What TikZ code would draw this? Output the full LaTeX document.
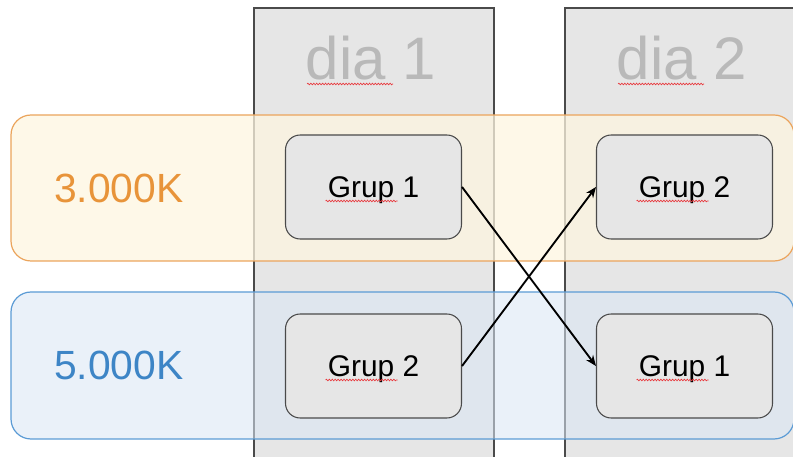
\documentclass[tikz,border=0pt]{standalone}
\usepackage{fontspec}
\setmainfont{Liberation Sans}
\usetikzlibrary{arrows.meta,decorations.pathmorphing}

\definecolor{colgray}{HTML}{E6E6E6}
\definecolor{edgegray}{HTML}{4A4A4A}
\definecolor{headgray}{HTML}{B9B9B9}
\definecolor{warmfill}{HTML}{FEF6E0}
\definecolor{warmline}{HTML}{EBA45C}
\definecolor{warmtext}{HTML}{E8943A}
\definecolor{coolfill}{HTML}{DAE6F5}
\definecolor{coolline}{HTML}{5B9BD5}
\definecolor{cooltext}{HTML}{3D85C6}
\definecolor{spellred}{HTML}{E8383D}

\tikzset{
  daycol/.style={draw=edgegray, fill=colgray, line width=0.9pt},
  dayhead/.style={text=headgray, inner sep=0pt, anchor=base, font=\fontsize{45}{50}\selectfont},
  band/.style={line width=0.9pt, rounded corners=15pt},
  kelvin/.style={inner sep=0pt, anchor=west, font=\fontsize{30.6}{34}\selectfont},
  grup/.style={draw=edgegray, fill=colgray, line width=0.8pt, rounded corners=11pt,
    minimum width=132pt, minimum height=78pt, text depth=0pt,
    font=\fontsize{22.4}{26}\selectfont},
  swap/.style={-{Stealth[length=8pt,width=6.5pt]}, line width=1.4pt},
  wavy/.style={spellred, line width=0.5pt,
    decorate, decoration={snake, segment length=2.2pt, amplitude=0.6pt}}
}

\begin{document}
\begin{tikzpicture}[x=0.75pt, y=0.75pt]
  \useasboundingbox (0,0) rectangle (793,457);
  \clip (0,0) rectangle (793,457);

  % day columns
  \foreach \cx/\d in {374/1, 685/2} {
    \draw[daycol] (\cx-120,-10) rectangle (\cx+120,449);
    \node[dayhead] (dia\d) at (\cx-3,377) {dia \d};
    \draw[wavy] ([shift={(-64,-4)}]dia\d.base) -- ++(86,0);
  }

  % temperature bands
  \draw[band, draw=warmline, fill=warmfill, fill opacity=0.75] (11,196) rectangle (794,342);
  \draw[band, draw=coolline, fill=coolfill, fill opacity=0.56] (11,18) rectangle (794,165);
  \node[kelvin, text=warmtext] (k3) at (54,269) {3.000K};
  \node[kelvin, text=cooltext] (k5) at (54,92) {5.000K};

  % groups
  \node[grup] (g1a) at (373.5,270) {Grup 1};
  \node[grup] (g2a) at (373.5,91) {Grup 2};
  \node[grup] (g2b) at (684.5,270) {Grup 2};
  \node[grup] (g1b) at (684.5,91) {Grup 1};
  \foreach \g in {g1a, g2a, g2b, g1b}
    \draw[wavy] ([shift={(-48,-14)}]\g.center) -- ++(72,0);

  \draw[swap] (g1a.east) -- (g1b.west);
  \draw[swap] (g2a.east) -- (g2b.west);
\end{tikzpicture}
\end{document}
